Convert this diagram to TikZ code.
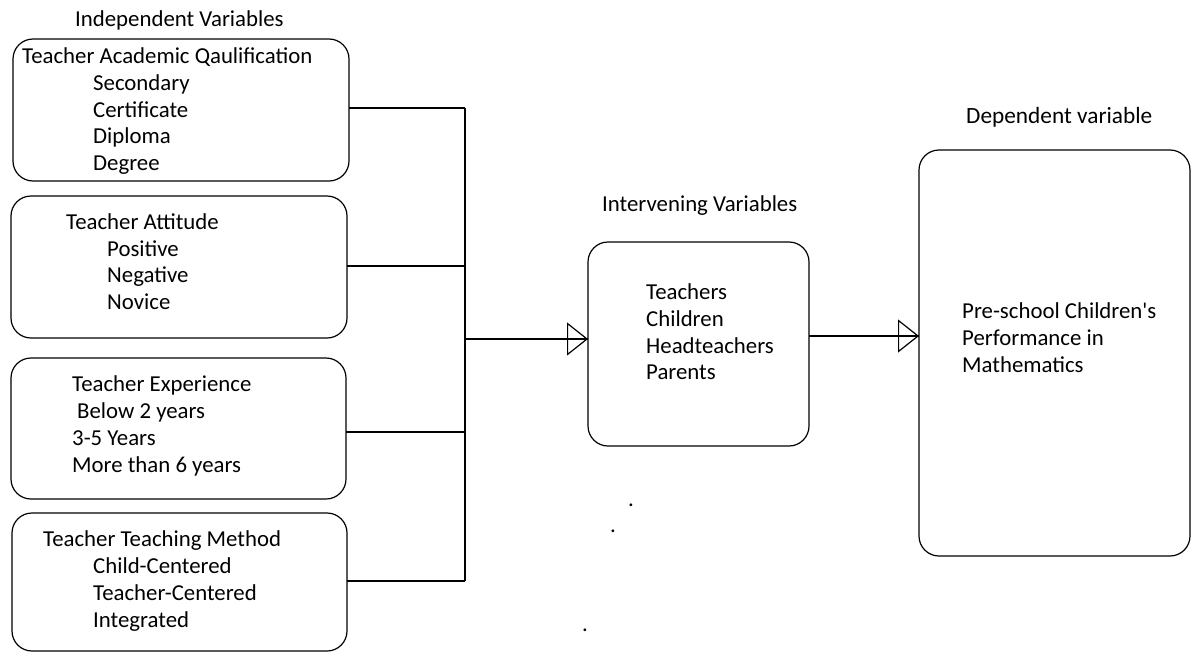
\documentclass[tikz,border=0pt]{standalone}
\usepackage{fontspec}
\setmainfont{Carlito}[Ligatures=TeXOff]
\usetikzlibrary{arrows.meta}
\tikzset{
  vbox/.style={draw, line width=1.2pt, rounded corners=20pt, inner sep=0pt, outer sep=0pt},
  conn/.style={line width=1.2pt},
  tip/.style={line width=1.2pt, -{Triangle[open, length=21pt, width=33pt, line width=1.2pt]}},
  txt/.style={anchor=base west, inner sep=0pt, font=\fontsize{22.8}{26}\selectfont},
  dot/.style={anchor=base, inner sep=0pt, font=\fontsize{22.8}{26}\selectfont}
}
\begin{document}
\begin{tikzpicture}[x=1pt, y=-1pt]
\useasboundingbox[fill=white] (0,0) rectangle (1193,653);

% boxes
\node[vbox, minimum width=336pt, minimum height=142pt] (b1) at (181,110) {};
\node[vbox, minimum width=336pt, minimum height=142pt] (b2) at (179,267) {};
\node[vbox, minimum width=335pt, minimum height=141pt] (b3) at (178.5,428.5) {};
\node[vbox, minimum width=335pt, minimum height=138pt] (b4) at (179.5,582) {};
\node[vbox, minimum width=221pt, minimum height=204pt] (mid) at (698.5,344) {};
\node[vbox, minimum width=271pt, minimum height=406pt] (dep) at (1054.5,353) {};

% headings
\node[txt] (hind) at (75,26) {Independent Variables};
\node[txt] (hint) at (602,211) {Intervening Variables};
\node[txt, font=\fontsize{23.3}{28}\selectfont] (hdep) at (966,123) {Dependent variable};

% box 1
\node[txt] (a0) at (22,63) {Teacher Academic Qaulification};
\node[txt] (a1) at (93,90) {Secondary};
\node[txt] (a2) at (93,117) {Certificate};
\node[txt] (a3) at (93,143) {Diploma};
\node[txt] (a4) at (93,170) {Degree};
% box 2
\node[txt] (e0) at (66,229) {Teacher Attitude};
\node[txt] (e1) at (107,256) {Positive};
\node[txt] (e2) at (107,282) {Negative};
\node[txt] (e3) at (107,309) {Novice};
% box 3
\node[txt] (x0) at (72,391) {Teacher Experience};
\node[txt] (x1) at (77,418) {Below 2 years};
\node[txt] (x2) at (72,445) {3-5 Years};
\node[txt] (x3) at (72,472) {More than 6 years};
% box 4
\node[txt] (m0) at (43,546) {Teacher Teaching Method};
\node[txt] (m1) at (93,573) {Child-Centered};
\node[txt] (m2) at (93,600) {Teacher-Centered};
\node[txt] (m3) at (93,627) {Integrated};
% middle box
\node[txt] (i1) at (646,299) {Teachers};
\node[txt] (i2) at (646,326) {Children};
\node[txt] (i3) at (646,353) {Headteachers};
\node[txt] (i4) at (646,379) {Parents};
% dependent box
\node[txt] (p1) at (962,318) {Pre-school Children's};
\node[txt] (p2) at (962,345) {Performance in};
\node[txt] (p3) at (962,372) {Mathematics};

% stray dots
\node[dot] (d1) at (631,506) {.};
\node[dot] (d2) at (613,532) {.};
\node[dot] (d3) at (585,631) {.};

% connectors
\coordinate (c1) at (465,108);
\coordinate (c2) at (465,266);
\coordinate (c3) at (465,432);
\coordinate (c4) at (465,581);
\coordinate (j) at (465,339);
\draw[conn] ([yshift=2pt]b1.east) -- (c1);
\draw[conn] ([yshift=1pt]b2.east) -- (c2);
\draw[conn] ([yshift=-3.5pt]b3.east) -- (c3);
\draw[conn] ([yshift=1pt]b4.east) -- (c4);
\draw[conn] (c1) -- (c4);
\draw[conn] (j) -- ([yshift=5pt]mid.west);
\draw[tip] (j) -- ([yshift=5pt]mid.west);
\draw[conn] ([yshift=8pt]mid.east) -- ([yshift=17pt]dep.west);
\draw[tip] ([yshift=8pt]mid.east) -- ([yshift=17pt]dep.west);
\end{tikzpicture}
\end{document}
